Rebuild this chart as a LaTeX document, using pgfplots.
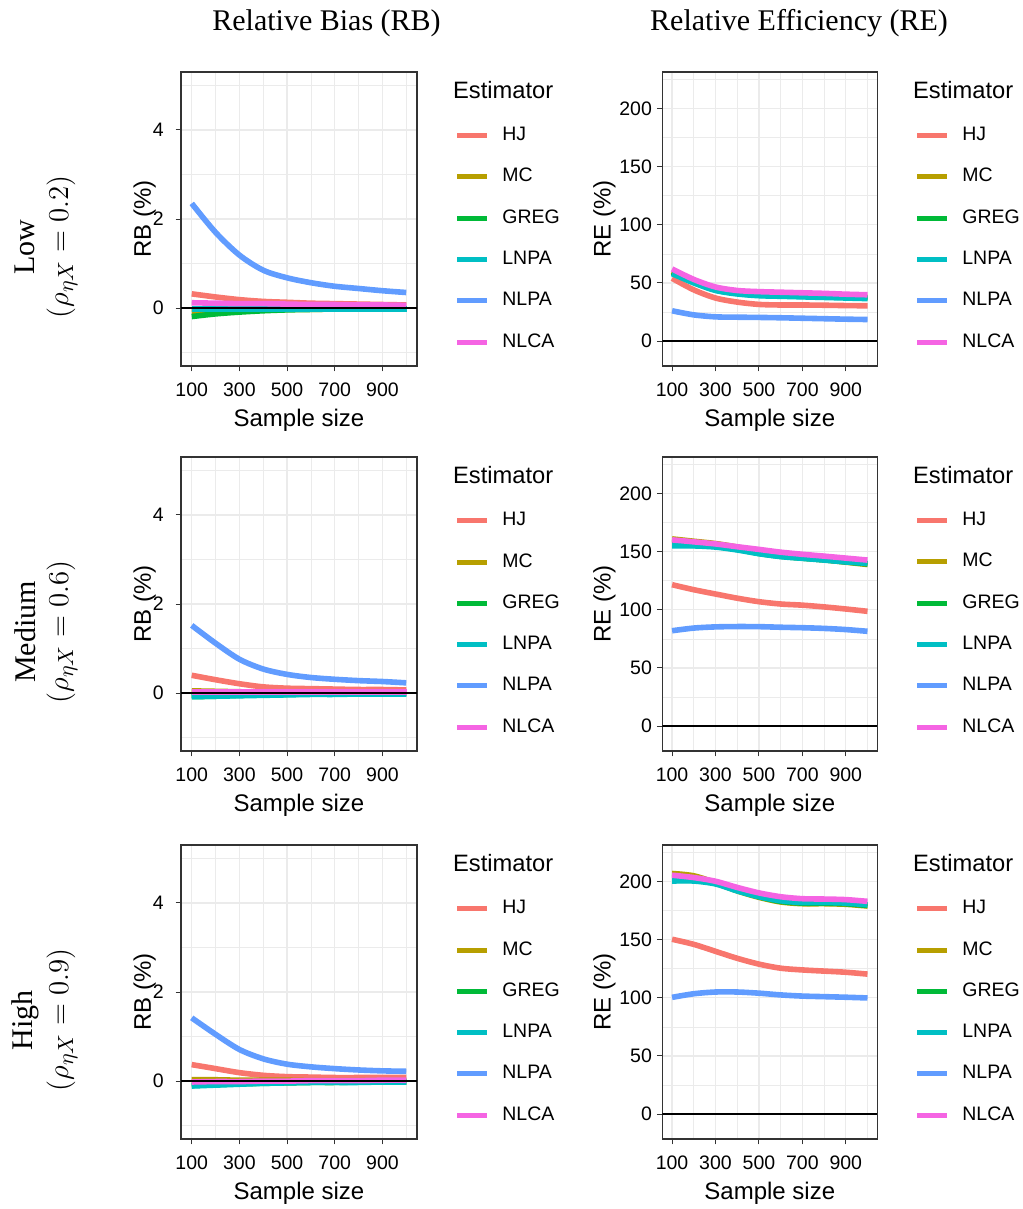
\documentclass[border=0pt]{standalone}
\usepackage{fontspec}
\setmainfont{Liberation Serif}
\setsansfont{Liberation Sans}
\usepackage{pgfplots}
\usepackage{pgfplotstable}
\pgfplotsset{compat=1.18}

\definecolor{cHJ}{HTML}{F8766D}
\definecolor{cMC}{HTML}{B79F00}
\definecolor{cGREG}{HTML}{00BA38}
\definecolor{cLNPA}{HTML}{00BFC4}
\definecolor{cNLPA}{HTML}{619CFF}
\definecolor{cNLCA}{HTML}{F564E3}
\definecolor{grid92}{HTML}{EBEBEB}
\definecolor{grey20}{HTML}{333333}

\pgfplotstableread{
n HJ MC GREG LNPA NLPA NLCA
100 0.32 -0.08 -0.19 -0.02 2.35 0.12
200 0.25 -0.06 -0.13 -0.02 1.70 0.11
300 0.19 -0.05 -0.09 -0.02 1.19 0.10
400 0.15 -0.04 -0.06 -0.02 0.85 0.10
500 0.13 -0.03 -0.04 -0.02 0.68 0.09
600 0.11 -0.03 -0.03 -0.02 0.57 0.08
700 0.10 -0.02 -0.02 -0.02 0.49 0.08
800 0.09 -0.02 -0.02 -0.02 0.44 0.07
900 0.08 -0.02 -0.02 -0.02 0.39 0.07
1000 0.07 -0.02 -0.02 -0.02 0.35 0.06
}\tRBlow

\pgfplotstableread{
n HJ MC GREG LNPA NLPA NLCA
100 0.40 0.05 -0.08 -0.08 1.52 0.02
200 0.30 0.04 -0.07 -0.07 1.12 0.02
300 0.21 0.03 -0.05 -0.06 0.76 0.02
400 0.14 0.02 -0.04 -0.05 0.54 0.02
500 0.11 0.02 -0.03 -0.04 0.42 0.02
600 0.10 0.02 -0.02 -0.03 0.35 0.02
700 0.09 0.01 -0.02 -0.03 0.31 0.02
800 0.08 0.01 -0.02 -0.02 0.28 0.02
900 0.08 0.01 -0.01 -0.02 0.26 0.02
1000 0.07 0.01 -0.01 -0.02 0.23 0.02
}\tRBmed

\pgfplotstableread{
n HJ MC GREG LNPA NLPA NLCA
100 0.37 0.03 -0.10 -0.11 1.42 -0.02
200 0.28 0.03 -0.08 -0.09 1.05 -0.01
300 0.19 0.02 -0.06 -0.07 0.71 -0.01
400 0.13 0.02 -0.05 -0.05 0.50 0.00
500 0.10 0.02 -0.04 -0.04 0.38 0.00
600 0.09 0.01 -0.03 -0.03 0.32 0.01
700 0.08 0.01 -0.03 -0.03 0.28 0.01
800 0.08 0.01 -0.02 -0.03 0.25 0.01
900 0.08 0.01 -0.02 -0.02 0.23 0.02
1000 0.08 0.01 -0.02 -0.02 0.22 0.02
}\tRBhigh

\pgfplotstableread{
n HJ MC GREG LNPA NLPA NLCA
100 54 60 59 58 26 62
200 44 51 50.5 50 22.5 53
300 37 45 44 43.5 20.8 46.5
400 33.5 41.5 41 40.5 20.5 43.5
500 31.5 40 39.5 39 20.3 42.5
600 31 39.5 39 38.5 20 42
700 31 39 38.5 38 19.6 41.5
800 30.8 38.5 38 37.5 19.2 41
900 30.5 38 37.5 37 18.8 40.3
1000 30.3 37.5 37 36.5 18.5 39.8
}\tRElow

\pgfplotstableread{
n HJ MC GREG LNPA NLPA NLCA
100 121.6 161 156 155 82 160.2
200 117.3 159 155.5 155 84.3 158.5
300 113.6 157 154.5 154 85.3 156.7
400 110 154 152 151.5 85.6 154.3
500 107 150 148.5 148.3 85.5 152
600 105 146.5 146 145.8 85 149.6
700 104 144.5 144.5 144.3 84.6 147.8
800 102.5 143 143 142.8 84 146.2
900 100.7 141 141.3 141.2 83 144.5
1000 98.7 139 139.5 140 81.5 142.8
}\tREmed

\pgfplotstableread{
n HJ MC GREG LNPA NLPA NLCA
100 150.4 207 201 200.5 100.4 205.5
200 146 205 201 200.5 103.5 203.5
300 140 199 198.5 198 105 200.3
400 134 192 192.5 192 105 195
500 129 186.5 187 187 104 190.3
600 125.5 182.5 183 183.5 102.5 187
700 124 181 181.5 182 101.5 185.3
800 123 181 181.5 182 101 185
900 122 180.5 181 181.5 100.5 184.5
1000 120.4 179 179.5 180 99.9 183
}\tREhigh

\pgfplotsset{
  panel/.style={
    scale only axis, height=147pt,
    xmin=55, xmax=1045,
    xtick={100,300,500,700,900},
    minor xtick={200,400,600,800,1000},
    grid=both,
    major grid style={draw=grid92, line width=0.6pt},
    minor grid style={draw=grid92, line width=0.3pt},
    axis line style={draw=grey20, line width=0.55pt},
    tick style={draw=grey20, line width=0.5pt},
    tick align=outside, tick pos=left,
    major tick length=2.7pt, minor tick length=0pt,
    /pgf/number format/assume math mode=true,
    tick label style={font=\sffamily\fontsize{9.75}{11}\selectfont, black, inner sep=0pt},
    xticklabel style={anchor=base, yshift=-12.3pt},
    every axis x label/.style={at={(axis description cs:0.5,0)}, anchor=base, yshift=-30pt,
      font=\sffamily\fontsize{12}{14}\selectfont, black, inner sep=0pt},
    xlabel={Sample size},
    legend cell align=left,
    legend style={draw=none, fill=none, inner sep=0pt, outer sep=0pt, anchor=north west,
      row sep=11.65pt, column sep=6.5pt,
      font=\sffamily\fontsize{9.75}{11}\selectfont,
      nodes={inner sep=0pt, text height=7pt, text depth=2pt}},
    legend image code/.code={\draw[#1, line width=2.5pt, line cap=butt] (0pt,0pt) -- (14.7pt,0pt);},
  },
  rb/.style={panel, width=118pt,
    ymin=-1.3, ymax=5.3, ytick={0,2,4}, minor ytick={-1,1,3,5},
    yticklabel style={anchor=east, xshift=-5.8pt},
    ylabel={RB (\%)},
    every axis y label/.style={at={(axis description cs:-0.128,0.5)}, rotate=90, anchor=base,
      font=\sffamily\fontsize{12}{14}\selectfont, black, inner sep=0pt},
    legend style={at={(axis description cs:1.161,0.814)}}},
  re/.style={panel, width=107.5pt,
    ymin=-21.5, ymax=231.5, ytick={0,50,100,150,200}, minor ytick={25,75,125,175,225},
    yticklabel style={anchor=east, xshift=-2.3pt},
    ylabel={RE (\%)},
    every axis y label/.style={at={(axis description cs:-0.240,0.5)}, rotate=90, anchor=base,
      font=\sffamily\fontsize{12}{14}\selectfont, black, inner sep=0pt},
    legend style={at={(axis description cs:1.175,0.814)}}},
  dl/.style={line width=2.8pt, smooth, tension=0.5},
}

\newcommand\sixplots[1]{%
  \addplot[cHJ, dl] table[x=n, y=HJ] {#1};
  \addplot[cMC, dl] table[x=n, y=MC] {#1};
  \addplot[cGREG, dl] table[x=n, y=GREG] {#1};
  \addplot[cLNPA, dl] table[x=n, y=LNPA] {#1};
  \addplot[cNLPA, dl] table[x=n, y=NLPA] {#1};
  \addplot[cNLCA, dl] table[x=n, y=NLCA] {#1};
  \addplot[black, line width=1.1pt, forget plot] coordinates {(55,0) (1045,0)};
  \legend{HJ,MC,GREG,LNPA,NLPA,NLCA}%
}

\begin{document}
\begin{tikzpicture}
\useasboundingbox (0pt,0pt) rectangle (511pt,-604.5pt);

% column titles
\node[anchor=base, font=\fontsize{15}{17}\selectfont] at (163.25pt,-15.5pt) {Relative Bias (RB)};
\node[anchor=base, font=\fontsize{15}{17}\selectfont] at (399.5pt,-15.5pt) {Relative Efficiency (RE)};

% row labels
\node[rotate=90, font=\fontsize{15}{17}\selectfont] at (12.5pt,-123.5pt) {Low};
\node[rotate=90, font=\fontsize{15}{17}\selectfont] at (31pt,-123.5pt) {$(\rho_{\eta X} = 0.2)$};
\node[rotate=90, font=\fontsize{15}{17}\selectfont] at (12.5pt,-316pt) {Medium};
\node[rotate=90, font=\fontsize{15}{17}\selectfont] at (31pt,-316pt) {$(\rho_{\eta X} = 0.6)$};
\node[rotate=90, font=\fontsize{15}{17}\selectfont] at (12.5pt,-510pt) {High};
\node[rotate=90, font=\fontsize{15}{17}\selectfont] at (31pt,-510pt) {$(\rho_{\eta X} = 0.9)$};

% row 1
\begin{axis}[rb, at={(90.5pt,-183pt)}, anchor=south west]
\sixplots{\tRBlow}
\end{axis}
\begin{axis}[re, at={(331.15pt,-183pt)}, anchor=south west]
\sixplots{\tRElow}
\end{axis}
% row 2
\begin{axis}[rb, at={(90.5pt,-375.5pt)}, anchor=south west]
\sixplots{\tRBmed}
\end{axis}
\begin{axis}[re, at={(331.15pt,-375.5pt)}, anchor=south west]
\sixplots{\tREmed}
\end{axis}
% row 3
\begin{axis}[rb, at={(90.5pt,-569.5pt)}, anchor=south west]
\sixplots{\tRBhigh}
\end{axis}
\begin{axis}[re, at={(331.15pt,-569.5pt)}, anchor=south west]
\sixplots{\tREhigh}
\end{axis}

% legend titles
\foreach \yy in {-49.15pt,-241.65pt,-435.65pt}{
  \node[anchor=base west, inner sep=0pt, font=\sffamily\fontsize{11.85}{13}\selectfont] at (226.35pt,\yy) {Estimator};
  \node[anchor=base west, inner sep=0pt, font=\sffamily\fontsize{11.85}{13}\selectfont] at (456.35pt,\yy) {Estimator};
}
\end{tikzpicture}
\end{document}
